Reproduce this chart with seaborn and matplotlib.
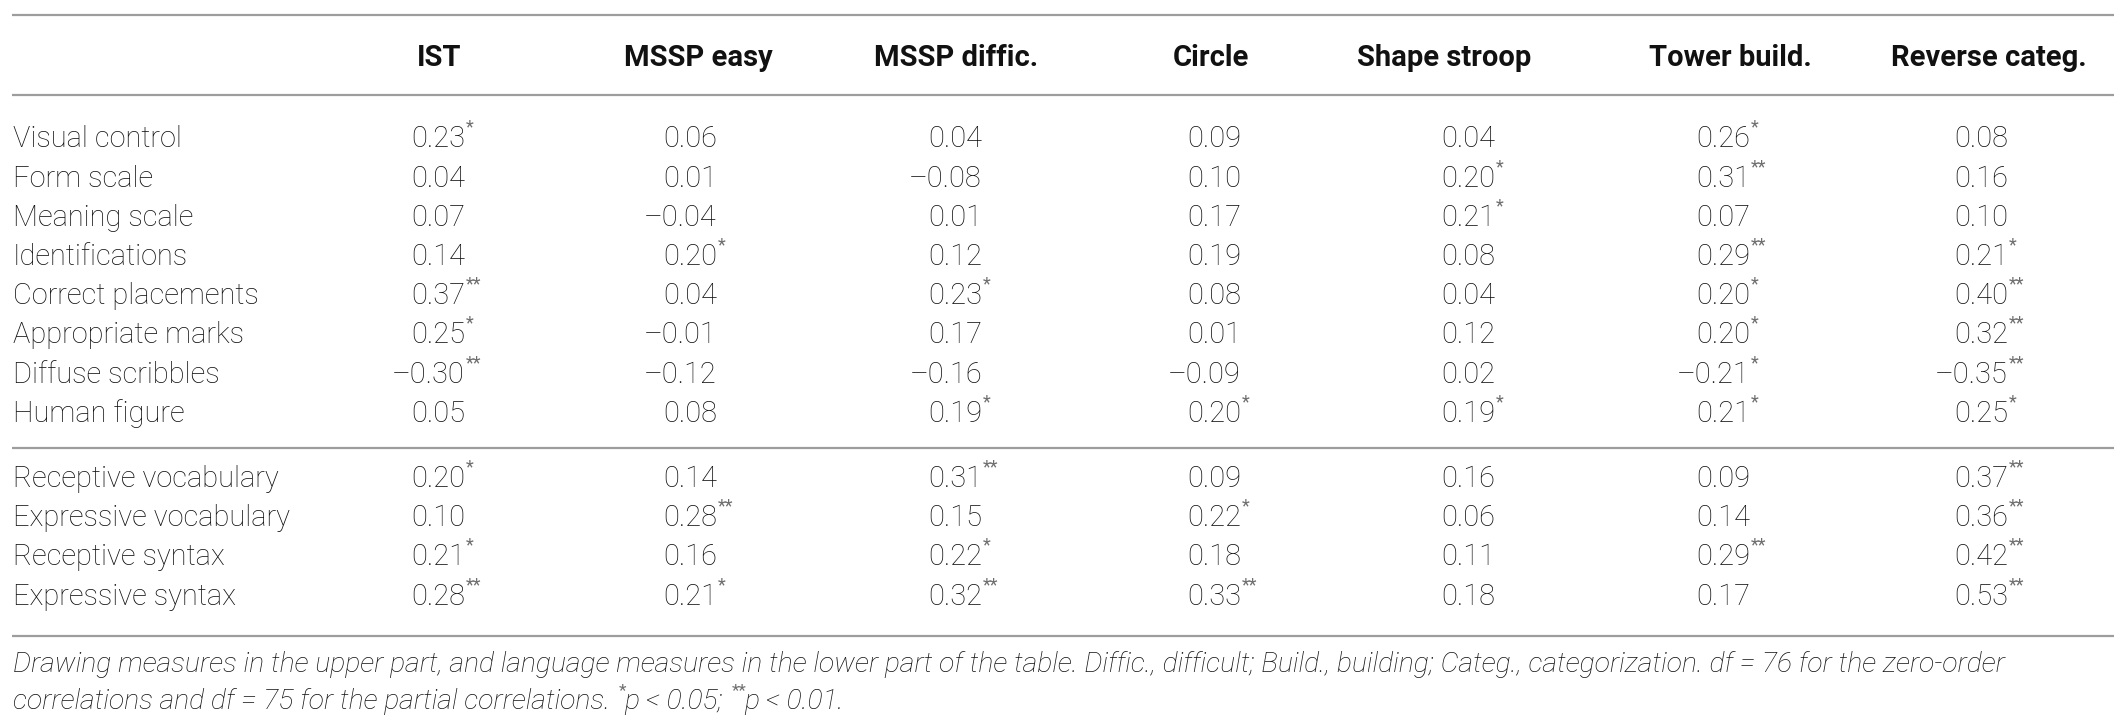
import matplotlib
matplotlib.use("Agg")
import matplotlib.pyplot as plt
import pandas as pd
import seaborn as sns

# ---- table content -------------------------------------------------------
row_labels = [
    "Visual control", "Form scale", "Meaning scale", "Identifications",
    "Correct placements", "Appropriate marks", "Diffuse scribbles", "Human figure",
    "Receptive vocabulary", "Expressive vocabulary", "Receptive syntax", "Expressive syntax",
]
row_section = ["drawing"] * 8 + ["language"] * 4
column_labels = ["IST", "MSSP easy", "MSSP diffic.", "Circle",
                 "Shape stroop", "Tower build.", "Reverse categ."]

ist = [0.23, 0.04, 0.07, 0.14, 0.37, 0.25, -0.30, 0.05, 0.20, 0.10, 0.21, 0.28]
ist_sig = ["*", "", "", "", "**", "*", "**", "", "*", "", "*", "**"]
mssp_easy = [0.06, 0.01, -0.04, 0.20, 0.04, -0.01, -0.12, 0.08, 0.14, 0.28, 0.16, 0.21]
mssp_easy_sig = ["", "", "", "*", "", "", "", "", "", "**", "", "*"]
mssp_diffic = [0.04, -0.08, 0.01, 0.12, 0.23, 0.17, -0.16, 0.19, 0.31, 0.15, 0.22, 0.32]
mssp_diffic_sig = ["", "", "", "", "*", "", "", "*", "**", "", "*", "**"]
circle = [0.09, 0.10, 0.17, 0.19, 0.08, 0.01, -0.09, 0.20, 0.09, 0.22, 0.18, 0.33]
circle_sig = ["", "", "", "", "", "", "", "*", "", "*", "", "**"]
shape_stroop = [0.04, 0.20, 0.21, 0.08, 0.04, 0.12, 0.02, 0.19, 0.16, 0.06, 0.11, 0.18]
shape_stroop_sig = ["", "*", "*", "", "", "", "", "*", "", "", "", ""]
tower_build = [0.26, 0.31, 0.07, 0.29, 0.20, 0.20, -0.21, 0.21, 0.09, 0.14, 0.29, 0.17]
tower_build_sig = ["*", "**", "", "**", "*", "*", "*", "*", "", "", "**", ""]
reverse_categ = [0.08, 0.16, 0.10, 0.21, 0.40, 0.32, -0.35, 0.25, 0.37, 0.36, 0.42, 0.53]
reverse_categ_sig = ["", "", "", "*", "**", "**", "**", "*", "**", "**", "**", "**"]

footnote_line1 = ("Drawing measures in the upper part, and language measures in the lower part "
                  "of the table. Diffic., difficult; Build., building; Categ., categorization. "
                  "df = 76 for the zero-order")
footnote_line2 = ["correlations and df = 75 for the partial correlations. ", ("*", True),
                  "p < 0.05; ", ("**", True), "p < 0.01."]

values = pd.DataFrame(
    dict(zip(column_labels, [ist, mssp_easy, mssp_diffic, circle,
                             shape_stroop, tower_build, reverse_categ])),
    index=row_labels,
)
marks = pd.DataFrame(
    dict(zip(column_labels, [ist_sig, mssp_easy_sig, mssp_diffic_sig, circle_sig,
                             shape_stroop_sig, tower_build_sig, reverse_categ_sig])),
    index=row_labels,
)

# ---- layout (pixels of the 2126 x 728 canvas) ----------------------------
W, H = 2126, 728
LEFT, RIGHT = 12, 2114
value_right = [465, 717, 982, 1241, 1495, 1750, 2008]
header_center = [439, 698, 956, 1211, 1444, 1730, 1989]
rule_y = [15, 95, 448, 636]
header_y = 56
first_row_y, row_step, section_gap = 137, 39.2, 26
footnote_y = [662, 699]

text_color = "#111111"
rule_color = "#9d9d9d"
star_color = "#6e6e6e"

sns.set_theme(style="white")
plt.rcParams["font.family"] = ["Roboto", "DejaVu Sans"]

fig = plt.figure(figsize=(W / 100, H / 100), dpi=100)
fig.patch.set_facecolor("white")
ax = fig.add_axes([0, 0, 1, 1])
ax.set_xlim(0, W)
ax.set_ylim(H, 0)
ax.axis("off")
renderer = fig.canvas.get_renderer()


def fitted_size(sample, target_px, **kw):
    t = ax.text(0, 0, sample, fontsize=20, **kw)
    width = t.get_window_extent(renderer).width
    t.remove()
    return 20 * target_px / width


body_kw = dict(fontweight="light", color=text_color)
head_kw = dict(fontweight="bold", color="#111111")
foot_kw = dict(fontstyle="italic", fontweight="light", color=text_color)

body_size = fitted_size("Receptive vocabulary", 266, **body_kw)
head_size = fitted_size("Reverse categ.", 195, **head_kw)
foot_size = fitted_size(footnote_line1, 1990, **foot_kw)
star_size = body_size * 0.62

body_px = body_size * 100 / 72
cap = body_px * 0.355          # half cap height
star_lift = body_px * 0.5      # raises the marks to the top of the digits

ax.hlines(rule_y, LEFT, RIGHT, colors=rule_color, linewidth=1.6)

for label, xc in zip(column_labels, header_center):
    ax.text(xc, header_y + cap, label, ha="center", va="baseline",
            fontsize=head_size, **head_kw)

for i, (label, sec) in enumerate(zip(row_labels, row_section)):
    y = first_row_y + i * row_step + (section_gap if sec == "language" else 0)
    base = y + cap
    ax.text(LEFT + 1, base, label, ha="left", va="baseline", fontsize=body_size, **body_kw)
    for col, xr in zip(column_labels, value_right):
        num = f"{values.loc[label, col]:.2f}".replace("-", "\u2013")
        ax.text(xr, base, num, ha="right", va="baseline", fontsize=body_size, **body_kw)
        if marks.loc[label, col]:
            ax.text(xr + 1, base - star_lift, marks.loc[label, col], ha="left",
                    va="baseline", fontsize=star_size, color=star_color)

ax.text(LEFT + 1, footnote_y[0] + cap, footnote_line1, ha="left", va="baseline",
        fontsize=foot_size, **foot_kw)

foot_px = foot_size * 100 / 72
x = LEFT + 1
for piece in footnote_line2:
    if isinstance(piece, tuple):
        t = ax.text(x + 2, footnote_y[1] + cap - foot_px * 0.5, piece[0],
                    ha="left", va="baseline", fontsize=foot_size * 0.6, color=star_color)
    else:
        t = ax.text(x, footnote_y[1] + cap, piece, ha="left", va="baseline",
                    fontsize=foot_size, **foot_kw)
    bb = t.get_window_extent(renderer)
    x += bb.width

fig.savefig("out.png", dpi=100, facecolor="white")
